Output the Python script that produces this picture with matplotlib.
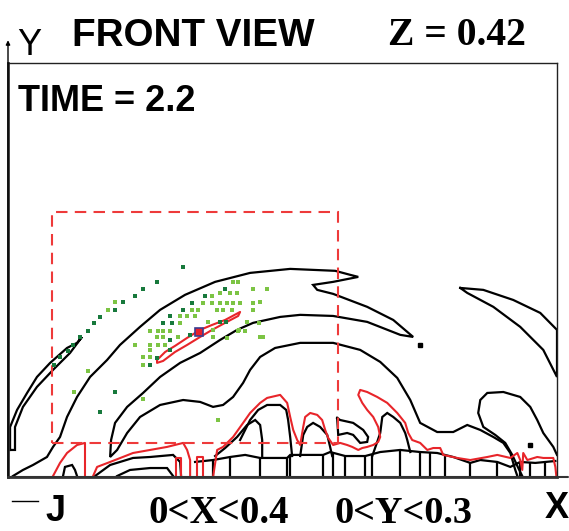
import numpy as np
import matplotlib
matplotlib.use("Agg")
import matplotlib.pyplot as plt
from matplotlib.patches import Rectangle
from matplotlib.lines import Line2D

# domain 0<X<0.4, 0<Y<0.3
X_MAX, Y_MAX = 0.4, 0.3

# window (dashed red box)
WIN_X = (0.0321, 0.2406)
WIN_Y = (0.0247, 0.1921)

# black contours (x, y)
SLIVER = [(0.0015, 0.0196), (0.0015, 0.0362), (0.0066, 0.0486), (0.0139, 0.0609),
          (0.0211, 0.0725), (0.0306, 0.0826), (0.0430, 0.0935), (0.0503, 0.0972),
          (0.0539, 0.1015), (0.0452, 0.0899), (0.0328, 0.0776), (0.0211, 0.0653),
          (0.0109, 0.0508), (0.0051, 0.0362), (0.0051, 0.0196), (0.0015, 0.0196)]

CRESCENT = [(0.0036, 0.0007), (0.0109, 0.0051), (0.0182, 0.0087), (0.0284, 0.0145),
            (0.0328, 0.0218), (0.0379, 0.0290), (0.0430, 0.0435), (0.0503, 0.0580),
            (0.0598, 0.0725), (0.0722, 0.0848), (0.0816, 0.0957), (0.0962, 0.1088),
            (0.1108, 0.1211), (0.1290, 0.1320), (0.1509, 0.1414), (0.1764, 0.1479),
            (0.2056, 0.1508), (0.2384, 0.1494), (0.2493, 0.1465), (0.2552, 0.1450),
            (0.2369, 0.1414), (0.2223, 0.1392), (0.2253, 0.1356), (0.2369, 0.1327),
            (0.2617, 0.1233), (0.2807, 0.1138), (0.2952, 0.1015), (0.2858, 0.1030),
            (0.2617, 0.1124), (0.2369, 0.1167), (0.2129, 0.1175), (0.1983, 0.1160),
            (0.1786, 0.1117), (0.1669, 0.1066), (0.1545, 0.0993), (0.1400, 0.0899),
            (0.1254, 0.0827), (0.1108, 0.0725), (0.0984, 0.0609), (0.0868, 0.0508),
            (0.0780, 0.0392), (0.0751, 0.0268), (0.0744, 0.0145), (0.0795, 0.0196),
            (0.0868, 0.0319), (0.0962, 0.0435), (0.1108, 0.0522), (0.1276, 0.0558),
            (0.1400, 0.0544), (0.1494, 0.0508), (0.1567, 0.0522), (0.1640, 0.0580),
            (0.1713, 0.0682), (0.1764, 0.0776), (0.1837, 0.0870), (0.1946, 0.0935),
            (0.2129, 0.0972), (0.2369, 0.0972), (0.2566, 0.0921), (0.2712, 0.0834),
            (0.2836, 0.0718), (0.2931, 0.0558), (0.3003, 0.0392), (0.3127, 0.0326),
            (0.3244, 0.0326), (0.3346, 0.0377), (0.3441, 0.0341), (0.3536, 0.0290),
            (0.3609, 0.0247), (0.3660, 0.0174), (0.3696, 0.0051), (0.3711, 0.0007)]

BLOB = [(0.4000, 0.0160), (0.3973, 0.0218), (0.3900, 0.0319), (0.3856, 0.0413),
        (0.3805, 0.0508), (0.3732, 0.0580), (0.3609, 0.0616), (0.3492, 0.0609),
        (0.3441, 0.0558), (0.3426, 0.0464), (0.3463, 0.0363), (0.3550, 0.0305),
        (0.3623, 0.0247), (0.3674, 0.0160), (0.3718, 0.0065), (0.3747, 0.0007)]

ARC_RIGHT = [(0.3295, 0.1370), (0.3463, 0.1356), (0.3681, 0.1283), (0.3878, 0.1189),
             (0.4000, 0.1066), (0.4000, 0.0725), (0.3900, 0.0921), (0.3732, 0.1088),
             (0.3536, 0.1233), (0.3346, 0.1334), (0.3295, 0.1370)]

SMALL_BLACK = [
    [(0.1509, 0.0152), (0.1582, 0.0210), (0.1669, 0.0290), (0.1742, 0.0377),
     (0.1801, 0.0413), (0.1837, 0.0377), (0.1852, 0.0268), (0.1852, 0.0152)],
    [(0.1691, 0.0268), (0.1764, 0.0413), (0.1823, 0.0486), (0.1888, 0.0522),
     (0.1983, 0.0522), (0.2027, 0.0486), (0.2041, 0.0413), (0.2056, 0.0290),
     (0.2070, 0.0152)],
    [(0.2129, 0.0152), (0.2151, 0.0305), (0.2180, 0.0363), (0.2223, 0.0392),
     (0.2274, 0.0363), (0.2326, 0.0305), (0.2347, 0.0218), (0.2362, 0.0152)],
    [(0.2398, 0.0428), (0.2420, 0.0413), (0.2515, 0.0392), (0.2588, 0.0341),
     (0.2624, 0.0290), (0.2617, 0.0254), (0.2566, 0.0247), (0.2515, 0.0305),
     (0.2471, 0.0319), (0.2406, 0.0305), (0.2398, 0.0428)],
    [(0.2654, 0.0152), (0.2690, 0.0254), (0.2712, 0.0319), (0.2727, 0.0435),
     (0.2763, 0.0464), (0.2807, 0.0435), (0.2858, 0.0392), (0.2894, 0.0319),
     (0.2909, 0.0268), (0.2931, 0.0181)],
    [(0.0634, 0.0007), (0.0744, 0.0087), (0.0911, 0.0138), (0.1035, 0.0145),
     (0.1203, 0.0160), (0.1254, 0.0109), (0.1261, 0.0007)],
    [(0.0795, 0.0007), (0.0889, 0.0051), (0.1035, 0.0065), (0.1159, 0.0065),
     (0.1203, 0.0007)],
    [(0.0401, 0.0007), (0.0415, 0.0073), (0.0467, 0.0087), (0.0488, 0.0051),
     (0.0503, 0.0007)],
]

# ragged band along the floor + the vertical walls under it
BAND_X = [0.1363, 0.1494, 0.1618, 0.1728, 0.1837, 0.2034, 0.2056, 0.2296, 0.2347,
          0.2457, 0.2603, 0.2712, 0.2858, 0.3003, 0.3127, 0.3244, 0.3368, 0.3441,
          0.3565, 0.3660, 0.3732, 0.3842, 0.3988]
BAND_Y = [0.0109, 0.0123, 0.0145, 0.0160, 0.0138, 0.0138, 0.0160, 0.0160, 0.0181,
          0.0152, 0.0152, 0.0181, 0.0196, 0.0181, 0.0174, 0.0145, 0.0102, 0.0123,
          0.0109, 0.0073, 0.0109, 0.0102, 0.0116]
WALL_X = [0.1494, 0.1618, 0.1837, 0.2034, 0.2056, 0.2296, 0.2369, 0.2457, 0.2603,
          0.2654, 0.2858, 0.3003, 0.3076, 0.3185, 0.3368, 0.3565, 0.3732, 0.3805, 0.3915]

BLACK_DOTS_X = [0.3003, 0.3805]
BLACK_DOTS_Y = [0.0957, 0.0232]

# red contours
RED_BLOB = [(0.1086, 0.0848), (0.1145, 0.0906), (0.1217, 0.0950), (0.1305, 0.1008),
            (0.1400, 0.1066), (0.1487, 0.1102), (0.1582, 0.1138), (0.1691, 0.1196),
            (0.1677, 0.1167), (0.1582, 0.1117), (0.1487, 0.1066), (0.1400, 0.1015),
            (0.1305, 0.0957), (0.1217, 0.0906), (0.1130, 0.0841), (0.1086, 0.0827),
            (0.1086, 0.0848)]

RED_LINES = [
    [(0.0328, 0.0007), (0.0379, 0.0102), (0.0430, 0.0174), (0.0503, 0.0232),
     (0.0561, 0.0247), (0.0561, 0.0007)],
    [(0.0620, 0.0007), (0.0649, 0.0073), (0.0744, 0.0109), (0.0911, 0.0174),
     (0.1035, 0.0196), (0.1159, 0.0218), (0.1276, 0.0247), (0.1305, 0.0196),
     (0.1327, 0.0123), (0.1327, 0.0007)],
    [(0.1225, 0.0007), (0.1225, 0.0138), (0.1261, 0.0138), (0.1261, 0.0007)],
    [(0.1378, 0.0007), (0.1378, 0.0145), (0.1422, 0.0145), (0.1422, 0.0007)],
    [(0.1494, 0.0000), (0.1524, 0.0196), (0.1567, 0.0218), (0.1640, 0.0290),
     (0.1713, 0.0392), (0.1764, 0.0464), (0.1837, 0.0537), (0.1888, 0.0573),
     (0.1983, 0.0595), (0.2034, 0.0537), (0.2056, 0.0435), (0.2078, 0.0341),
     (0.2107, 0.0268), (0.2129, 0.0232), (0.2151, 0.0363), (0.2165, 0.0435),
     (0.2202, 0.0464), (0.2253, 0.0450), (0.2289, 0.0413), (0.2311, 0.0341),
     (0.2333, 0.0283), (0.2369, 0.0232), (0.2420, 0.0247), (0.2471, 0.0232),
     (0.2508, 0.0218), (0.2552, 0.0196), (0.2581, 0.0210), (0.2617, 0.0218),
     (0.2661, 0.0232), (0.2697, 0.0254), (0.2712, 0.0290), (0.2697, 0.0363),
     (0.2661, 0.0435), (0.2617, 0.0486), (0.2581, 0.0537), (0.2552, 0.0595),
     (0.2566, 0.0631), (0.2617, 0.0616), (0.2690, 0.0580), (0.2763, 0.0537),
     (0.2836, 0.0464), (0.2894, 0.0392), (0.2916, 0.0319), (0.2945, 0.0268),
     (0.3003, 0.0247), (0.3055, 0.0196), (0.3098, 0.0210), (0.3149, 0.0210),
     (0.3171, 0.0160), (0.3273, 0.0138), (0.3368, 0.0123), (0.3492, 0.0145),
     (0.3565, 0.0160), (0.3660, 0.0138), (0.3711, 0.0174), (0.3732, 0.0123),
     (0.3747, 0.0051), (0.3754, 0.0174), (0.3784, 0.0123), (0.3856, 0.0145),
     (0.3900, 0.0138), (0.3973, 0.0138), (0.3988, 0.0073), (0.3995, 0.0007)],
]

# particles
DARK_X = [0.1276, 0.1086, 0.0984, 0.0926, 0.0838, 0.0780, 0.0671, 0.0627, 0.0583,
          0.0525, 0.0474, 0.0437, 0.0379, 0.0335, 0.0780, 0.0671, 0.1582, 0.1436,
          0.1341, 0.1276, 0.1181, 0.1130, 0.1196, 0.1545, 0.1589, 0.1181, 0.1327,
          0.1181, 0.1086, 0.1035]
DARK_Y = [0.1523, 0.1414, 0.1363, 0.1312, 0.1269, 0.1211, 0.1160, 0.1117, 0.1059,
          0.1015, 0.0957, 0.0914, 0.0870, 0.0812, 0.0616, 0.0471, 0.1363, 0.1312,
          0.1262, 0.1211, 0.1167, 0.1117, 0.1117, 0.1124, 0.1124, 0.0993, 0.1030,
          0.0921, 0.0863, 0.0812]
LIGHT_X = [0.0780, 0.0729, 0.0583, 0.0481, 0.0984, 0.1531, 0.1640, 0.1677, 0.1786,
           0.1888, 0.1487, 0.1545, 0.1618, 0.1669, 0.1421, 0.1487, 0.1545, 0.1596,
           0.1640, 0.1691, 0.1786, 0.1341, 0.1385, 0.1524, 0.1567, 0.1633, 0.1786,
           0.1254, 0.1305, 0.1363, 0.1458, 0.1742, 0.1254, 0.1035, 0.1094, 0.1130,
           0.1181, 0.1494, 0.1677, 0.1728, 0.1086, 0.1130, 0.1239, 0.1494, 0.1596,
           0.1837, 0.0926, 0.1035, 0.1094, 0.1145, 0.1035, 0.0984, 0.1035, 0.0984,
           0.1837, 0.1830, 0.1859, 0.1684]
LIGHT_Y = [0.1269, 0.1211, 0.0768, 0.0616, 0.0566, 0.0413, 0.1414, 0.1414, 0.1363,
           0.1363, 0.1312, 0.1334, 0.1334, 0.1334, 0.1262, 0.1262, 0.1262, 0.1262,
           0.1262, 0.1262, 0.1262, 0.1211, 0.1211, 0.1211, 0.1211, 0.1211, 0.1211,
           0.1167, 0.1167, 0.1167, 0.1124, 0.1124, 0.1117, 0.1059, 0.1059, 0.1059,
           0.1059, 0.1066, 0.1059, 0.1059, 0.1015, 0.1015, 0.1015, 0.1015, 0.1008,
           0.1015, 0.0957, 0.0957, 0.0957, 0.0957, 0.0921, 0.0870, 0.0870, 0.0812,
           0.1269, 0.1117, 0.1015, 0.1066]

# tracked particle
TRACK_X = [0.1392]
TRACK_Y = [0.1051]

RED = "#e8252a"
SANS = "Liberation Sans"
SERIF = "Liberation Serif"


def draw_poly(ax, pts, **kw):
    xs, ys = zip(*pts)
    ax.plot(xs, ys, **kw)


fig = plt.figure(figsize=(5.69, 5.31), dpi=100)
ax = fig.add_axes([8 / 569, 54 / 531, 549 / 569, 414 / 531])
ax.set_xlim(0, X_MAX)
ax.set_ylim(0, Y_MAX)
ax.set_xticks([])
ax.set_yticks([])
for side in ["top", "right"]:
    ax.spines[side].set_linewidth(1.0)
    ax.spines[side].set_color("#222222")
for side in ["left", "bottom"]:
    ax.spines[side].set_linewidth(2.0)
    ax.spines[side].set_color("#333333")

blk = dict(color="black", lw=1.6, solid_joinstyle="miter")
for pts in [SLIVER, CRESCENT, BLOB, ARC_RIGHT] + SMALL_BLACK:
    draw_poly(ax, pts, **blk)
ax.plot(BAND_X, BAND_Y, **blk)
ax.vlines(WALL_X, 0, np.interp(WALL_X, BAND_X, BAND_Y), color="black", lw=1.6)
ax.plot(BLACK_DOTS_X, BLACK_DOTS_Y, "s", color="black", ms=2.5)

red = dict(color=RED, lw=1.5)
draw_poly(ax, RED_BLOB, **red)
for pts in RED_LINES:
    draw_poly(ax, pts, **red)

ax.add_patch(Rectangle((WIN_X[0], WIN_Y[0]), WIN_X[1] - WIN_X[0], WIN_Y[1] - WIN_Y[0],
                       fill=False, edgecolor="#ee3a3a", lw=1.5,
                       linestyle=(0, (5.5, 3.5)), zorder=3))

ax.plot(LIGHT_X, LIGHT_Y, "s", color="#7cc444", ms=2.6, mew=0, zorder=4)
ax.plot(DARK_X, DARK_Y, "s", color="#17793c", ms=2.6, mew=0, zorder=4)
ax.plot(TRACK_X, TRACK_Y, "s", color="#e8202a", ms=6, mec="#3b3b8f", mew=1.2, zorder=5)

# axis arrows
ax.annotate("", xy=(0, 1.055), xytext=(0, 0), xycoords="axes fraction",
            arrowprops=dict(arrowstyle="-|>", lw=1.0, color="black",
                            mutation_scale=6, shrinkA=0, shrinkB=0))
ax.annotate("", xy=(1.02, 0), xytext=(0, 0), xycoords="axes fraction",
            arrowprops=dict(arrowstyle="-", lw=1.5, color="#333333",
                            shrinkA=0, shrinkB=0))

# header / footer labels
fig.text(17 / 569, 1 - 55 / 531, "Y", family=SANS, fontsize=26, va="baseline")
fig.text(72 / 569, 1 - 46 / 531, "FRONT VIEW", family=SANS, weight="bold",
         fontsize=27.8, va="baseline")
fig.text(388 / 569, 1 - 45 / 531, "Z = 0.42", family=SERIF, weight="bold",
         fontsize=28.5, va="baseline")
ax.text(10 / 549, 1 - 48 / 414, "TIME = 2.2", transform=ax.transAxes,
        family=SANS, weight="bold", fontsize=26, va="baseline")

fig.add_artist(Line2D([12 / 569, 38 / 569], [1 - 501 / 531, 1 - 501 / 531],
                      color="black", lw=1.0))
fig.text(45 / 569, 1 - 521 / 531, "J", family=SANS, weight="bold",
         fontsize=26, va="baseline")
fig.text(148 / 569, 1 - 523 / 531, "0<X<0.4", family=SERIF, weight="bold",
         fontsize=28, va="baseline")
fig.text(335 / 569, 1 - 523 / 531, "0<Y<0.3", family=SERIF, weight="bold",
         fontsize=27.5, va="baseline")
fig.text(545 / 569, 1 - 518 / 531, "X", family=SANS, weight="bold",
         fontsize=26, va="baseline")

fig.savefig("out.png", dpi=100)
